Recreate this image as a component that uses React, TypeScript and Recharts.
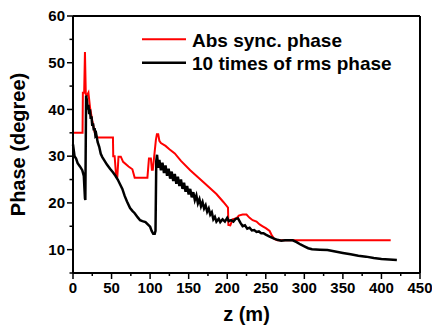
import React from "react";
import { Legend, Line, LineChart, ReferenceLine, XAxis, YAxis } from "recharts";

// [z (m), phase (degree)]
const absSyncPhase: Array<[number, number]> = [
    [0, 35], [12.4, 35], [12.8, 43.6], [14.5, 43.6], [15.5, 52.3], [16.6, 43.2], [18, 43], [20, 43.6],
    [22, 40.5], [25, 37.6], [28, 35.2], [31, 34], [51.8, 34], [52.2, 30], [54, 30], [56, 25.6],
    [57.5, 25.6], [59, 29.9], [62, 29.9], [65, 28.8], [72, 27.8], [77, 27.2], [80, 25.4],
    [96.5, 25.4], [98.5, 29.5], [101, 29.5], [102.3, 27.1], [103.5, 27.1], [107.5, 33.5],
    [108.8, 34.7], [110.5, 34.7], [112, 33.3], [114, 32.8], [120, 32.2], [125, 31.5], [132, 30.6],
    [140, 29], [152, 27], [170, 24.3], [186, 21.9], [195, 20.2], [201, 19], [201.5, 15.3],
    [204, 15.2], [207, 16.5], [212, 16.7], [215, 17.3], [220, 17.5], [225, 17.5], [229, 16.8],
    [233, 16.3], [238, 16], [242, 15.4], [246, 15], [250, 14.6], [255, 14], [258, 13],
    [261, 12.3], [265, 12], [412, 12],
];

const rmsPhaseX10: Array<[number, number]> = [
    [0, 32.5], [2, 30], [4, 29.5], [6, 28.5], [9, 27.8], [12, 27], [14, 25.8], [15.5, 21],
    [16, 20.6], [17, 43], [18, 42], [19, 40], [20, 41], [21, 39], [22, 40], [23, 38], [24, 38.5],
    [25, 36.5], [26, 37], [27, 35.5], [28, 36], [29, 34.5], [30, 34.8], [32, 33], [34, 32],
    [36, 30.5], [38, 29.8], [41, 29], [44, 28.2], [48, 27.3], [52, 26.5], [55, 25.8], [58, 25],
    [61, 24], [64, 23], [67, 21.5], [70, 20.3], [74, 18.9], [77, 18.3], [80, 17.8], [84, 16.9],
    [87, 16.3], [90, 16.1], [94, 15.9], [97, 15.4], [100, 14.9], [102, 14], [104, 13.4],
    [106, 13.4], [107, 14], [108, 29], [109, 30.3], [110, 28.5], [111, 27.5], [112, 29.2],
    [114, 27], [116, 28.6], [118, 26.4], [120, 28], [122, 25.8], [124, 27.3], [126, 25.2],
    [128, 26.7], [130, 24.7], [132, 26.2], [134, 24.1], [136, 25.6], [138, 23.6], [140, 25],
    [142, 23], [144, 24.3], [146, 22.4], [148, 23.6], [150, 21.8], [152, 23], [154, 21.2],
    [156, 22.3], [158, 20.6], [160, 21.6], [162, 19.9], [164, 20.8], [166, 19.3], [168, 20.2],
    [170, 18.8], [172, 19.5], [174, 18.1], [176, 18.8], [178, 17.5], [180, 18], [182, 16.5],
    [184, 17], [186, 16], [189, 16.6], [191, 15.9], [194, 16.5], [197, 16], [200, 16.8],
    [202, 16.1], [205, 16.3], [208, 16], [211, 16.6], [214, 16.7], [217, 15.8], [220, 15],
    [223, 15.2], [226, 14.5], [229, 14.7], [232, 14.1], [235, 14.2], [238, 13.8], [241, 13.9],
    [244, 13.5], [247, 13.5], [250, 13.2], [255, 12.8], [260, 12.4], [265, 12.1], [270, 11.9],
    [275, 12], [280, 12], [285, 12], [290, 11.6], [295, 11.1], [300, 10.7], [305, 10.3],
    [310, 10.1], [320, 10], [330, 9.9], [340, 9.6], [350, 9.3], [360, 9], [370, 8.7],
    [380, 8.5], [390, 8.2], [400, 8], [410, 7.9], [420, 7.8],
];

const seriesNames = ["Abs sync. phase", "10 times of rms phase"];
const seriesWidths = [2, 2.5];
const xTicks = [0, 25, 50, 75, 100, 125, 150, 175, 200, 225, 250, 275, 300, 325, 350, 375, 400, 425, 450];
const yTicks = [5, 10, 15, 20, 25, 30, 35, 40, 45, 50, 55, 60];

const font = "Arial, 'Liberation Sans', sans-serif";

const toRows = (pts: Array<[number, number]>) => pts.map(([z, phase]) => ({ z, phase }));

const XTick = ({ x, y, payload }: any) => {
    const major = payload.value % 50 === 0;
    return (
        <g>
            <line x1={x} x2={x} y1={y} y2={y + (major ? 6 : 3)} stroke="#000" strokeWidth={1.5} />
            {major && (
                <text x={x} y={y + 19.5} textAnchor="middle" fontSize={15} fontWeight="bold" fontFamily={font} fill="#000">
                    {payload.value}
                </text>
            )}
        </g>
    );
};

const YTick = ({ x, y, payload }: any) => {
    const major = payload.value % 10 === 0;
    return (
        <g>
            <line x1={x - (major ? 6 : 3.5)} x2={x} y1={y} y2={y} stroke="#000" strokeWidth={1.5} />
            {major && (
                <text x={x - 8} y={y + 5.3} textAnchor="end" fontSize={15} fontWeight="bold" fontFamily={font} fill="#000">
                    {payload.value}
                </text>
            )}
        </g>
    );
};

const LegendBox = ({ payload }: any) => {
    const items = [...(payload || [])].sort(
        (a: any, b: any) => seriesNames.indexOf(a.value) - seriesNames.indexOf(b.value)
    );
    return (
        <svg width={270} height={60} style={{ display: "block" }}>
            {items.map((e: any, i: number) => (
                <g key={e.value}>
                    <line x1={2} x2={46} y1={19.3 + i * 23.4} y2={19.3 + i * 23.4} stroke={e.color} strokeWidth={seriesWidths[i]} />
                    <text x={52} y={26.7 + i * 23.4} fontSize={19} fontWeight="bold" fontFamily={font} fill="#000">
                        {e.value}
                    </text>
                </g>
            ))}
        </svg>
    );
};

const App: React.FC = () => {
    return (
        <div style={{ position: "absolute", left: 0, top: 0, background: "#fff" }}>
            <LineChart width={432} height={331} margin={{ top: 16, right: 12, left: 0, bottom: 0 }}>
                <XAxis
                    type="number"
                    dataKey="z"
                    domain={[0, 450]}
                    ticks={xTicks}
                    interval={0}
                    height={58}
                    tickSize={0}
                    tickMargin={0}
                    tickLine={false}
                    tick={<XTick />}
                    axisLine={{ stroke: "#000", strokeWidth: 2 }}
                    label={({ viewBox }: any) => (
                        <text x={viewBox.x + viewBox.width / 2} y={321} textAnchor="middle" fontSize={20} fontWeight="bold" fontFamily={font} fill="#000">
                            z (m)
                        </text>
                    )}
                />
                <YAxis
                    type="number"
                    dataKey="phase"
                    domain={[5, 60]}
                    ticks={yTicks}
                    interval={0}
                    width={73}
                    tickSize={0}
                    tickMargin={0}
                    tickLine={false}
                    tick={<YTick />}
                    axisLine={{ stroke: "#000", strokeWidth: 2 }}
                    label={({ viewBox }: any) => {
                        const cy = viewBox.y + viewBox.height / 2;
                        return (
                            <text x={25} y={cy} transform={`rotate(-90 25 ${cy})`} textAnchor="middle" fontSize={20} fontWeight="bold" fontFamily={font} fill="#000">
                                Phase (degree)
                            </text>
                        );
                    }}
                />
                <ReferenceLine y={60} stroke="#000" strokeWidth={2} />
                <ReferenceLine x={450} stroke="#000" strokeWidth={2} />
                <Legend
                    layout="vertical"
                    align="center"
                    verticalAlign="middle"
                    content={<LegendBox />}
                    wrapperStyle={{ left: 140, top: 20, width: 270, height: 60 }}
                />
                <Line
                    data={toRows(absSyncPhase)}
                    dataKey="phase"
                    name={seriesNames[0]}
                    type="linear"
                    stroke="#ff0000"
                    strokeWidth={seriesWidths[0]}
                    dot={false}
                    isAnimationActive={false}
                />
                <Line
                    data={toRows(rmsPhaseX10)}
                    dataKey="phase"
                    name={seriesNames[1]}
                    type="linear"
                    stroke="#000"
                    strokeWidth={seriesWidths[1]}
                    dot={false}
                    isAnimationActive={false}
                />
            </LineChart>
        </div>
    );
};

export default App;
